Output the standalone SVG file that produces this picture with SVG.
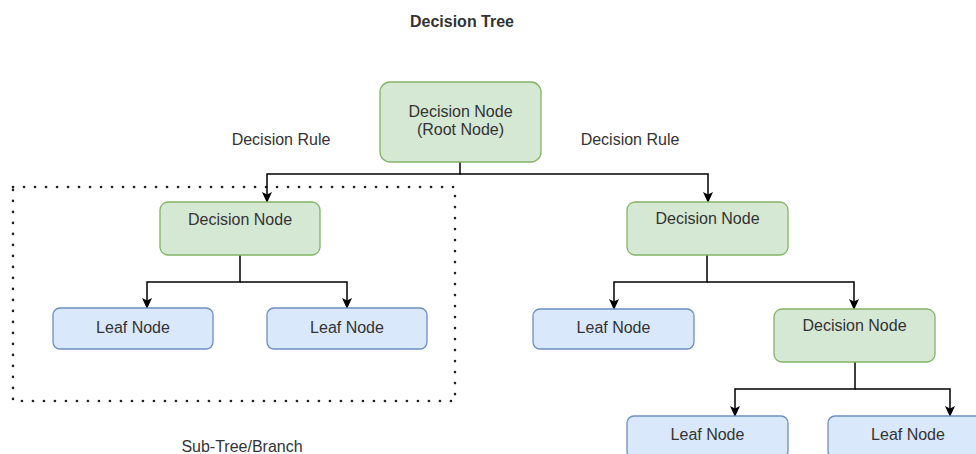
<svg xmlns="http://www.w3.org/2000/svg" width="976" height="454" viewBox="0 0 976 454">
<style>
text{font-family:"Liberation Sans",Arial,sans-serif;font-size:16px;fill:#333;text-anchor:middle}
.dec{fill:#d5e8d4;stroke:#82b366;stroke-width:1.3}
.leaf{fill:#dae8fc;stroke:#6c8ebf;stroke-width:1.3}
.con{fill:none;stroke:#000;stroke-width:1.5;marker-end:url(#arr)}
.title{font-weight:bold}
</style>
<defs>
<marker id="arr" markerUnits="userSpaceOnUse" viewBox="0 0 11 10" markerWidth="11" markerHeight="10" refX="10" refY="5" orient="auto">
<path d="M0,0 L11,5 L0,10 L2.5,5 Z" fill="#000"/>
</marker>
</defs>
<rect width="976" height="454" fill="#fff"/>
<text class="title" x="462" y="27">Decision Tree</text>
<g id="subtree">
<rect x="13" y="187" width="442" height="214" fill="none" stroke="#222" stroke-width="2.6" stroke-dasharray="0.1 10.9" stroke-linecap="round"/>
<text x="242" y="452">Sub-Tree/Branch</text>
</g>
<g id="labels">
<text x="281" y="145">Decision Rule</text>
<text x="630" y="145">Decision Rule</text>
</g>
<g id="connectors">
<path class="con" d="M460,162 V174 H267 V202"/>
<path class="con" d="M460,174 H708 V202"/>
<path class="con" d="M240,255 V282 H147 V308"/>
<path class="con" d="M240,282 H347 V308"/>
<path class="con" d="M707,255 V282 H614 V309"/>
<path class="con" d="M707,282 H854 V309"/>
<path class="con" d="M855,362 V389 H735 V416"/>
<path class="con" d="M855,389 H950 V416"/>
</g>
<g id="root">
<rect class="dec" x="380" y="82" width="161" height="80" rx="10"/>
<text x="460.5" y="117">Decision Node</text>
<text x="460.5" y="135">(Root Node)</text>
</g>
<g id="dn-left">
<rect class="dec" x="160" y="202" width="160" height="53" rx="8"/>
<text x="240" y="225">Decision Node</text>
</g>
<g id="leaf-1">
<rect class="leaf" x="53" y="308" width="160" height="41" rx="7"/>
<text x="133" y="333">Leaf Node</text>
</g>
<g id="leaf-2">
<rect class="leaf" x="267" y="308" width="160" height="41" rx="7"/>
<text x="347" y="333">Leaf Node</text>
</g>
<g id="dn-right">
<rect class="dec" x="627" y="202" width="161" height="53" rx="8"/>
<text x="707.5" y="224">Decision Node</text>
</g>
<g id="leaf-3">
<rect class="leaf" x="533" y="309" width="161" height="40" rx="7"/>
<text x="613.5" y="333">Leaf Node</text>
</g>
<g id="dn-2">
<rect class="dec" x="774" y="309" width="161" height="53" rx="8"/>
<text x="854.5" y="331">Decision Node</text>
</g>
<g id="leaf-4">
<rect class="leaf" x="627" y="416" width="161" height="42" rx="7"/>
<text x="707.5" y="440">Leaf Node</text>
</g>
<g id="leaf-5">
<rect class="leaf" x="828" y="416" width="161" height="42" rx="7"/>
<text x="908" y="440">Leaf Node</text>
</g>
</svg>
